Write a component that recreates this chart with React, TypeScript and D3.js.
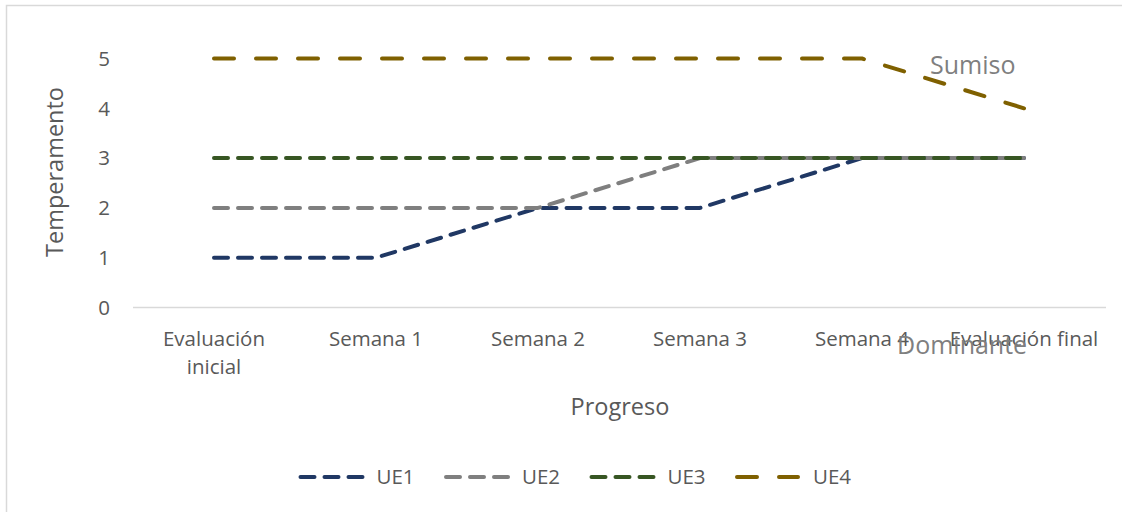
import React from 'react';
import * as d3 from 'd3';

const categories = ['Evaluación inicial', 'Semana 1', 'Semana 2', 'Semana 3', 'Semana 4', 'Evaluación final'];
const seriesNames = ['UE1', 'UE2', 'UE3', 'UE4'];
const ue1 = [1, 1, 2, 2, 3, 3];
const ue2 = [2, 2, 2, 3, 3, 3];
const ue3 = [3, 3, 3, 3, 3, 3];
const ue4 = [5, 5, 5, 5, 5, 4];
const yTicks = [0, 1, 2, 3, 4, 5];

const colors = ['#203864', '#7f7f7f', '#375623', '#7f6000'];
const dashes = ['14 10', '14 10', '14 10', '20 22'];

const FONT = '"Open Sans", "Noto Sans", sans-serif';
const TEXT = '#595959';

const App = () => {
  const x = d3.scalePoint<string>().domain(categories).range([133, 1105]).padding(0.5);
  const y = d3.scaleLinear().domain([0, 5]).range([307.5, 58.5]);
  const line = d3.line<number>()
    .x((_, i) => x(categories[i]) as number)
    .y(d => y(d));

  const series = [ue1, ue2, ue3, ue4];

  return (
    <svg width={1122} height={512} style={{ position: 'absolute', left: 0, top: 0 }} fontFamily={FONT}>
      <rect x={0} y={0} width={1122} height={512} fill='#fff' />
      <rect x={6.5} y={5.5} width={1130} height={520} fill='none' stroke='#d9d9d9' strokeWidth={1.5} />

      {/* y axis labels */}
      {yTicks.map(t => (
        <text key={t} x={110} y={y(t)} dy='0.36em' textAnchor='end' fontSize={20.5} fill={TEXT}>{t}</text>
      ))}

      {/* x axis line */}
      <line x1={133} x2={1106} y1={y(0)} y2={y(0)} stroke='#d9d9d9' strokeWidth={1.5} />

      {/* x labels */}
      {categories.map(c => {
        const parts = c === 'Evaluación inicial' ? ['Evaluación', 'inicial'] : [c];
        return (
          <text key={c} x={x(c)} y={346} textAnchor='middle' fontSize={20.5} fill={TEXT}>
            {parts.map((p, i) => <tspan key={i} x={x(c)} dy={i === 0 ? 0 : 28}>{p}</tspan>)}
          </text>
        );
      })}

      {/* series */}
      {series.map((s, i) => (
        <path key={seriesNames[i]} d={line(s) || ''} fill='none' stroke={colors[i]} strokeWidth={4}
          strokeDasharray={dashes[i]} strokeLinecap='round' strokeLinejoin='round' />
      ))}

      {/* axis titles */}
      <text x={620} y={415} textAnchor='middle' fontSize={23.5} fill={TEXT}>Progreso</text>
      <text transform='translate(63,172) rotate(-90)' textAnchor='middle' fontSize={23.5} fill={TEXT}>Temperamento</text>

      {/* annotations */}
      <text x={930} y={74} fontSize={25} fill='#7f7f7f'>Sumiso</text>
      <text x={897} y={354} fontSize={25} fill='#7f7f7f'>Dominante</text>

      {/* legend */}
      {seriesNames.map((n, i) => {
        const lx = 298.5 + i * 145.5;
        const len = i === 3 ? 61 : 62;
        return (
          <g key={n}>
            <line x1={lx + 2} x2={lx + 2 + len} y1={477} y2={477} stroke={colors[i]} strokeWidth={4}
              strokeDasharray={dashes[i]} strokeLinecap='round' />
            <text x={lx + 78} y={477} dy='0.36em' fontSize={20.5} fill={TEXT}>{n}</text>
          </g>
        );
      })}
    </svg>
  );
};

export default App;
